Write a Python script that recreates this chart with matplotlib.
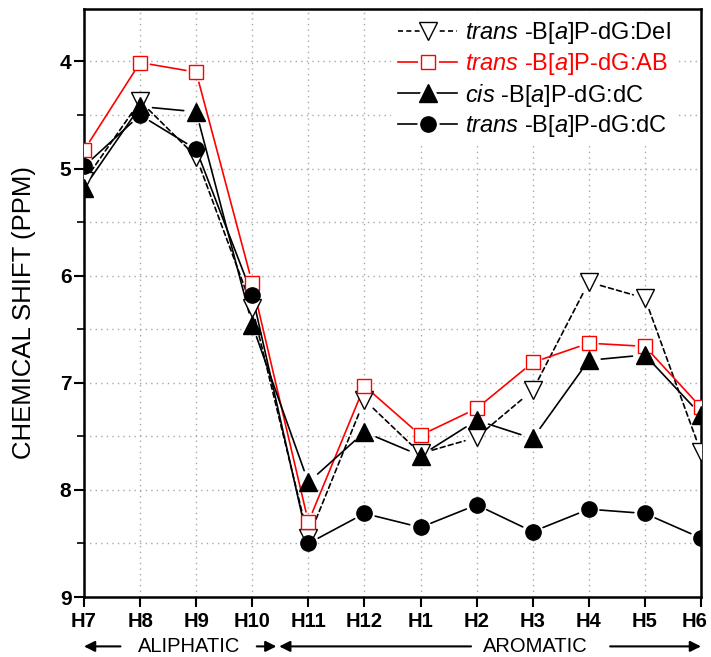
import matplotlib
matplotlib.use("Agg")
import matplotlib.pyplot as plt
import matplotlib.transforms as mtransforms
from matplotlib.lines import Line2D
from matplotlib.legend_handler import HandlerTuple
from matplotlib.ticker import MultipleLocator

plt.rcParams["font.family"] = ["Liberation Sans", "DejaVu Sans"]
plt.rcParams["mathtext.fontset"] = "custom"
plt.rcParams["mathtext.rm"] = "Liberation Sans"
plt.rcParams["mathtext.it"] = "Liberation Sans:italic"

# Proton positions along the x axis
protons = ["H7", "H8", "H9", "H10", "H11", "H12", "H1", "H2", "H3", "H4", "H5", "H6"]

# Chemical shifts (ppm)
trans_del = [5.12, 4.37, 4.89, 6.30, 8.45, 7.16, 7.66, 7.51, 7.07, 6.06, 6.21, 7.65]
trans_ab = [4.83, 4.01, 4.10, 6.07, 8.30, 7.03, 7.49, 7.24, 6.81, 6.63, 6.66, 7.23]
cis_dc = [5.18, 4.42, 4.47, 6.46, 7.93, 7.46, 7.68, 7.35, 7.52, 6.79, 6.74, 7.30]
trans_dc = [4.98, 4.50, 4.82, 6.18, 8.50, 8.22, 8.35, 8.14, 8.39, 8.18, 8.22, 8.45]

labels = [
    r"$\mathit{trans}$ -B[$\mathit{a}$]P-dG:Del",
    r"$\mathit{trans}$ -B[$\mathit{a}$]P-dG:AB",
    r"$\mathit{cis}$ -B[$\mathit{a}$]P-dG:dC",
    r"$\mathit{trans}$ -B[$\mathit{a}$]P-dG:dC",
]

styles = [
    dict(data=trans_del, color="black", ls=(0, (3, 2)), marker="v", ms=12.5, mfc="white", mew=1.0),
    dict(data=trans_ab, color="red", ls="-", marker="s", ms=10, mfc="white", mew=1.0),
    dict(data=cis_dc, color="black", ls="-", marker="^", ms=13, mfc="black", mew=1.0),
    dict(data=trans_dc, color="black", ls="-", marker="o", ms=11, mfc="black", mew=1.0),
]

fig = plt.figure(figsize=(7.11, 6.57), dpi=100)
ax = fig.add_axes([84 / 711, 1 - 597 / 657, 617 / 711, 588 / 657])

x = list(range(len(protons)))
handles = []
for st in styles:
    ys = st["data"]
    gap = st["ms"] / 2 + 2.5
    # connecting segments that stop short of the symbols
    for i in range(len(x) - 1):
        ax.annotate("", xy=(x[i + 1], ys[i + 1]), xytext=(x[i], ys[i]),
                    arrowprops=dict(arrowstyle="-", color=st["color"], lw=1.2,
                                    linestyle=st["ls"], shrinkA=gap, shrinkB=gap),
                    zorder=2)
    ax.plot(x, ys, linestyle="None", marker=st["marker"], markersize=st["ms"],
            markerfacecolor=st["mfc"], markeredgecolor=st["color"],
            markeredgewidth=st["mew"], zorder=3)
    h_line = Line2D([], [], color=st["color"], lw=1.2, linestyle=st["ls"])
    h_halo = Line2D([], [], linestyle="None", marker=st["marker"], markersize=st["ms"],
                    markerfacecolor="white", markeredgecolor="white", markeredgewidth=5)
    h_mark = Line2D([], [], linestyle="None", marker=st["marker"], markersize=st["ms"],
                    markerfacecolor=st["mfc"], markeredgecolor=st["color"],
                    markeredgewidth=st["mew"])
    handles.append((h_line, h_halo, h_mark))

ax.set_xlim(0, len(protons) - 1)
ax.set_ylim(9, 3.51)
ax.set_xticks(x)
ax.set_xticklabels(protons, fontsize=14.5, fontweight="bold")
ax.yaxis.set_major_locator(MultipleLocator(1))
ax.yaxis.set_minor_locator(MultipleLocator(0.5))
ax.set_yticks([4, 5, 6, 7, 8, 9])
ax.set_yticklabels(["4", "5", "6", "7", "8", "9"], fontsize=15, fontweight="bold")
ax.tick_params(axis="both", which="major", direction="out", length=7, width=1.5, pad=2)
ax.tick_params(axis="y", which="minor", direction="out", length=5, width=1.2)
ax.tick_params(axis="x", which="major", pad=4)

# keep the last x label inside the canvas
last = ax.xaxis.get_major_ticks()[-1].label1
last.set_transform(last.get_transform()
                   + mtransforms.ScaledTranslation(-6 / 100, 0, fig.dpi_scale_trans))

for sp in ax.spines.values():
    sp.set_linewidth(1.8)

ax.grid(True, which="both", axis="y", color="#a8a8a8", linestyle=(0, (1, 3)), linewidth=1.0)
ax.grid(True, which="major", axis="x", color="#a8a8a8", linestyle=(0, (1, 3)), linewidth=1.0)
ax.set_axisbelow(True)

ax.set_ylabel("CHEMICAL SHIFT (PPM)", fontsize=18.5)
ax.yaxis.set_label_coords(-0.077, 0.484)

leg = ax.legend(handles, labels, handler_map={tuple: HandlerTuple(ndivide=1, pad=0)},
                loc="upper right", bbox_to_anchor=(0.963, 0.993), fontsize=17,
                frameon=True, fancybox=False, framealpha=1.0, edgecolor="none",
                facecolor="white", handlelength=2.5, handletextpad=0.35,
                labelspacing=0.2, borderpad=0.3, borderaxespad=0.0)
leg.get_texts()[1].set_color("red")
leg.set_zorder(5)

# region captions below the tick labels
trans = mtransforms.blended_transform_factory(ax.transData, ax.transAxes)
yb = -0.084
arrow = dict(arrowstyle="-|>", color="black", lw=1.5, mutation_scale=16, shrinkA=0, shrinkB=0)
ax.annotate("", xy=(0.0, yb), xytext=(0.65, yb), xycoords=trans, textcoords=trans,
            arrowprops=arrow, annotation_clip=False)
ax.text(1.87, yb, "ALIPHATIC", transform=trans, ha="center", va="center", fontsize=14.5)
ax.annotate("", xy=(3.43, yb), xytext=(3.08, yb), xycoords=trans, textcoords=trans,
            arrowprops=arrow, annotation_clip=False)
ax.annotate("", xy=(3.48, yb), xytext=(6.9, yb), xycoords=trans, textcoords=trans,
            arrowprops=arrow, annotation_clip=False)
ax.text(8.05, yb, "AROMATIC", transform=trans, ha="center", va="center", fontsize=14.5)
ax.annotate("", xy=(11.0, yb), xytext=(9.38, yb), xycoords=trans, textcoords=trans,
            arrowprops=arrow, annotation_clip=False)

fig.savefig("out.png", dpi=100)
